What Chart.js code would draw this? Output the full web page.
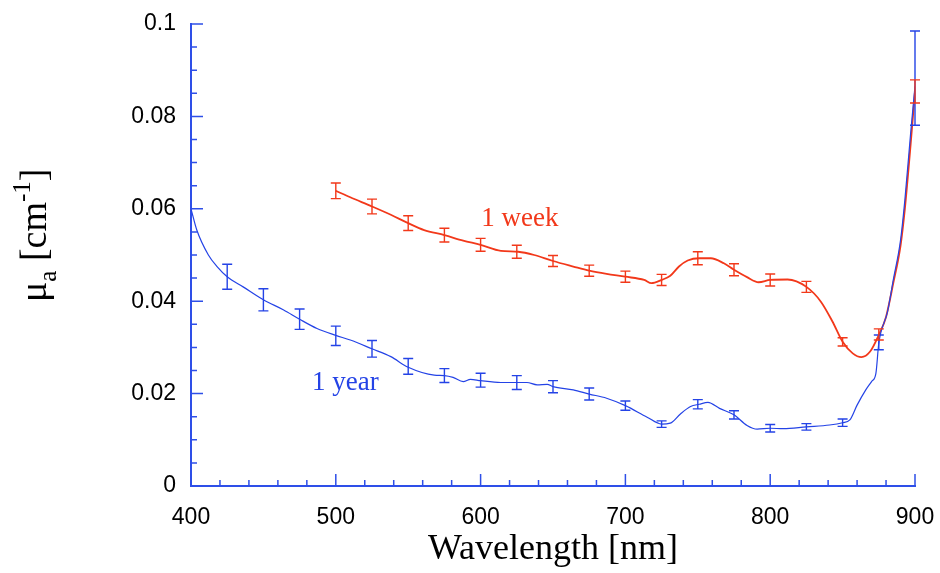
<!DOCTYPE html>
<html>
<head>
<meta charset="utf-8">
<script src="https://cdn.jsdelivr.net/npm/chart.js@4/dist/chart.umd.min.js"></script>
<style>
  html, body { margin: 0; padding: 0; background: #fff; }
  #wrap { width: 940px; height: 573px; }
</style>
</head>
<body>
<div id="wrap"><canvas id="absorption"></canvas></div>
<script>
// absorption spectra, 1 year sample
const wavelengthsYear = [400,404,412,418,425,436,450,464,475,487,500,510,525,538,550,568,575,581,588,593,600,614,625,632,639,646,650,664,675,687,700,715,725,731,738,745,751,757,765,775,784,791,800,809,825,841,850,855,860,866,870,873,875,881,885,890,893,897,900];
const muYear = [0.0600,0.0554,0.0500,0.0475,0.0453,0.0431,0.0403,0.0381,0.0361,0.0341,0.0326,0.0316,0.0297,0.0280,0.0257,0.0240,0.0239,0.0235,0.0226,0.0231,0.0228,0.0224,0.0224,0.0224,0.0219,0.0220,0.0215,0.0208,0.0199,0.0190,0.0174,0.0149,0.0134,0.0136,0.0156,0.0172,0.0177,0.0181,0.0168,0.0154,0.0131,0.0123,0.0125,0.0124,0.0128,0.0132,0.0137,0.0143,0.0175,0.0208,0.0226,0.0244,0.0309,0.0377,0.0446,0.0532,0.0619,0.0764,0.0865];

// 1 week sample
const wavelengthsWeek = [500,510,525,538,550,561,575,588,600,614,626,637,650,664,675,687,700,713,718,725,731,737,743,751,759,768,775,784,792,800,812,825,835,843,850,857,863,869,875,880,885,890,893,897,900];
const muWeek = [0.0639,0.0625,0.0605,0.0587,0.0569,0.0554,0.0543,0.0531,0.0522,0.0509,0.0507,0.0500,0.0487,0.0475,0.0466,0.0459,0.0453,0.0446,0.0439,0.0446,0.0455,0.0475,0.0488,0.0493,0.0493,0.0482,0.0468,0.0452,0.0441,0.0446,0.0447,0.0431,0.0399,0.0356,0.0312,0.0287,0.0279,0.0291,0.0327,0.0366,0.0439,0.0520,0.0600,0.0740,0.0855];

// error bars (mean and half width)
const barsYearX = [425,450,475,500,525,550,575,600,625,650,675,700,725,750,775,800,825,850,875,900];
const barsYearMean = [0.0453,0.0403,0.0361,0.0325,0.0297,0.0259,0.0239,0.0229,0.0224,0.0215,0.0199,0.0174,0.0134,0.0177,0.0154,0.0125,0.0128,0.0137,0.0311,0.0883];
const barsYearErr = [0.0027,0.0024,0.0022,0.0021,0.0018,0.0017,0.0015,0.0015,0.0015,0.0013,0.0013,0.0010,0.0007,0.0010,0.0009,0.0008,0.0007,0.0008,0.0016,0.0102];

const barsWeekX = [500,525,550,575,600,625,650,675,700,725,750,775,800,825,850,875,900];
const barsWeekMean = [0.0639,0.0605,0.0569,0.0543,0.0522,0.0507,0.0487,0.0466,0.0453,0.0446,0.0493,0.0468,0.0446,0.0431,0.0312,0.0328,0.0854];
const barsWeekErr = [0.0017,0.0016,0.0016,0.0015,0.0014,0.0014,0.0012,0.0012,0.0012,0.0012,0.0014,0.0013,0.0013,0.0012,0.0009,0.0012,0.0025];

const xTicks = [400,500,600,700,800,900];
const yTicks = [0,0.02,0.04,0.06,0.08,0.1];

const BLUE = '#2443e6';
const RED = '#f2381a';
const AXIS = '#2e4fe8';

const toPoints = (xs, ys) => xs.map((x, i) => ({ x: x, y: ys[i] }));

// vertical error bars with small caps
const errorBars = {
  id: 'errorBars',
  afterDatasetsDraw(chart) {
    const { ctx, scales: { x, y } } = chart;
    const sets = [
      { xs: barsYearX, m: barsYearMean, e: barsYearErr, color: BLUE, w: 1.4 },
      { xs: barsWeekX, m: barsWeekMean, e: barsWeekErr, color: RED, w: 1.4 }
    ];
    ctx.save();
    sets.forEach(s => {
      ctx.strokeStyle = s.color;
      ctx.lineWidth = s.w;
      s.xs.forEach((v, i) => {
        const px = x.getPixelForValue(v);
        const top = y.getPixelForValue(s.m[i] + s.e[i]);
        const bot = y.getPixelForValue(s.m[i] - s.e[i]);
        ctx.beginPath();
        ctx.moveTo(px, top); ctx.lineTo(px, bot);
        ctx.moveTo(px - 5, top); ctx.lineTo(px + 5, top);
        ctx.moveTo(px - 5, bot); ctx.lineTo(px + 5, bot);
        ctx.stroke();
      });
    });
    ctx.restore();
  }
};

// inward tick marks on both axes
const innerTicks = {
  id: 'innerTicks',
  afterDraw(chart) {
    const { ctx, scales: { x, y }, chartArea: a } = chart;
    ctx.save();
    ctx.strokeStyle = AXIS;
    ctx.lineWidth = 1.5;
    ctx.beginPath();
    for (let v = 400; v <= 900; v += 20) {
      const px = x.getPixelForValue(v);
      const len = v % 100 === 0 ? 12 : 6;
      ctx.moveTo(px, a.bottom); ctx.lineTo(px, a.bottom - len);
    }
    for (let i = 0; i <= 20; i++) {
      const py = y.getPixelForValue(i * 0.005);
      const len = i % 4 === 0 ? 12 : 6;
      ctx.moveTo(a.left, py); ctx.lineTo(a.left + len, py);
    }
    ctx.stroke();
    ctx.restore();
  }
};

// curve names and the y axis title with sub/superscripts
const labels = {
  id: 'labels',
  afterDraw(chart) {
    const { ctx, scales: { x, y } } = chart;
    ctx.save();
    ctx.font = '27px "Liberation Serif", serif';
    ctx.textBaseline = 'alphabetic';
    ctx.fillStyle = RED;
    ctx.fillText('1 week', x.getPixelForValue(600.5), y.getPixelForValue(0.0563));
    ctx.fillStyle = BLUE;
    ctx.fillText('1 year', x.getPixelForValue(483.6), y.getPixelForValue(0.0207));

    ctx.fillStyle = '#000';
    ctx.translate(46, 302);
    ctx.rotate(-Math.PI / 2);
    let cx = 0;
    const big = '38px "Liberation Serif", serif';
    const small = '25px "Liberation Serif", serif';
    ctx.font = big;
    ctx.fillText('\u03bc', cx, 0); cx += ctx.measureText('\u03bc').width;
    ctx.font = small;
    ctx.fillText('a', cx, 10); cx += ctx.measureText('a').width;
    ctx.font = big;
    ctx.fillText(' [cm', cx, 0); cx += ctx.measureText(' [cm').width;
    ctx.font = small;
    ctx.fillText('-1', cx, -16); cx += ctx.measureText('-1').width;
    ctx.font = big;
    ctx.fillText(']', cx, 0);
    ctx.restore();
  }
};

new Chart(document.getElementById('absorption'), {
  type: 'line',
  data: {
    datasets: [
      {
        label: '1 year',
        data: toPoints(wavelengthsYear, muYear),
        borderColor: BLUE,
        borderWidth: 1.2,
        pointRadius: 0,
        cubicInterpolationMode: 'monotone'
      },
      {
        label: '1 week',
        data: toPoints(wavelengthsWeek, muWeek),
        borderColor: RED,
        borderWidth: 1.8,
        pointRadius: 0,
        cubicInterpolationMode: 'monotone'
      }
    ]
  },
  options: {
    responsive: true,
    maintainAspectRatio: false,
    animation: false,
    layout: { padding: { left: 0, top: 24, right: 25, bottom: 0 } },
    plugins: {
      legend: { display: false },
      tooltip: { enabled: false }
    },
    scales: {
      x: {
        type: 'linear',
        min: 400,
        max: 900,
        afterFit: s => {
          s.height = 87;
          s.paddingLeft = 0;
          s.paddingRight = 0;
        },
        afterBuildTicks: s => { s.ticks = xTicks.map(v => ({ value: v })); },
        grid: { display: false, drawTicks: false },
        border: { color: AXIS, width: 2 },
        ticks: {
          color: '#000',
          padding: 18,
          maxRotation: 0,
          font: { family: '"Liberation Sans", Arial, sans-serif', size: 23 }
        },
        title: {
          display: true,
          text: 'Wavelength [nm]',
          color: '#000',
          font: { family: '"Liberation Serif", serif', size: 36 },
          padding: { top: 0, bottom: 2 }
        }
      },
      y: {
        type: 'linear',
        min: 0,
        max: 0.1,
        afterFit: s => {
          s.width = 191;
          s.paddingTop = 0;
          s.paddingBottom = 0;
        },
        afterBuildTicks: s => { s.ticks = yTicks.map(v => ({ value: v })); },
        grid: { display: false, drawTicks: false },
        border: { color: AXIS, width: 2 },
        ticks: {
          color: '#000',
          padding: 15,
          font: { family: '"Liberation Sans", Arial, sans-serif', size: 23 },
          callback: v => String(Math.round(v * 100) / 100)
        }
      }
    }
  },
  plugins: [errorBars, innerTicks, labels]
});
</script>
</body>
</html>
